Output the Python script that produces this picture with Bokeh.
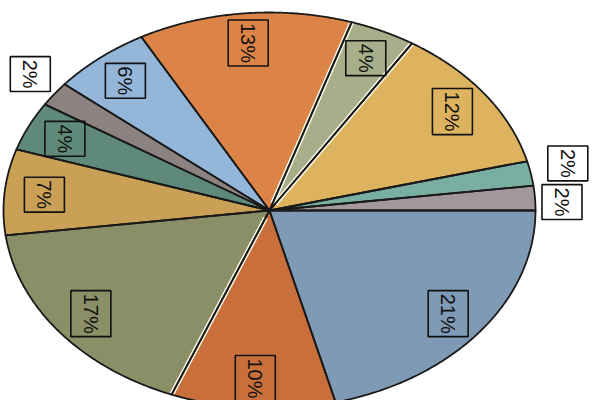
import numpy as np
from bokeh.plotting import figure
from bokeh.models import ColumnDataSource, Range1d
from bokeh.core.properties import value
from bokeh.embed import file_html
from bokeh.resources import INLINE

# Slices in clockwise order starting at 3 o'clock
shares = [21, 10, 17, 7, 4, 2, 6, 13, 4, 12, 2, 2]
colors = ["#7E9AB4", "#C96F3B", "#8A8F68", "#C9A056", "#5F8A7A", "#8C8282",
          "#94B6D8", "#DC8448", "#A6AE8A", "#DDB35F", "#79AFA3", "#A3989B"]
outside = [False, False, False, False, False, True,
           False, False, False, False, True, True]
highlight_edge = [False, True, False, False, False, False,
                  False, True, True, False, False, False]
label_text = [f"{s}%" for s in shares]

# geometry (style)
CX, CY, RX, RY = 269, 210, 266, 198   # ellipse in picture px
W, H = 595, 400
OX, OY = 0, 0
x0 = (OX - CX) / RX
x1 = (OX + W - CX) / RX
y0 = (CY - OY - H) / RY
y1 = (CY - OY) / RY

p = figure(width=W, height=H, output_backend="svg", toolbar_location=None,
           x_range=Range1d(x0, x1), y_range=Range1d(y0, y1), min_border=0)
p.axis.visible = False
p.grid.visible = False
p.outline_line_color = None
p.background_fill_color = "white"

frac = np.array(shares, dtype=float) / sum(shares)
ends = -np.cumsum(frac) * 2 * np.pi
starts = np.concatenate([[0.0], ends[:-1]])

xs, ys = [], []
for a0, a1 in zip(starts, ends):
    t = np.linspace(a0, a1, 120)
    xs.append(np.concatenate([[0.0], np.cos(t), [0.0]]))
    ys.append(np.concatenate([[0.0], np.sin(t), [0.0]]))

p.patches(xs=xs, ys=ys, fill_color=colors, line_color=None)

# light bevel highlight along some slice edges
hx, hy = [], []
for i, e in enumerate(ends):
    if highlight_edge[i]:
        hx.append([0.04 * np.cos(e), np.cos(e)])
        hy.append([0.04 * np.sin(e), np.sin(e)])
p.multi_line(xs=hx, ys=hy, line_color="#FAF6E4", line_width=5)

p.patches(xs=xs, ys=ys, fill_color=None, line_color="#1a1a1a", line_width=1.8,
          line_join="round")

mid = (starts + ends) / 2
inner_r = 0.85
ox_map = {5: (-24, -20), 10: (37, -10), 11: (27, 4)}

inx, iny, intext = [], [], []
outx, outy, outtext, offx, offy = [], [], [], [], []
for i, m in enumerate(mid):
    if outside[i]:
        outx.append(np.cos(m)); outy.append(np.sin(m)); outtext.append(label_text[i])
        dx, dy = ox_map[i]
        offx.append(dx); offy.append(dy)
    else:
        inx.append(inner_r * np.cos(m)); iny.append(inner_r * np.sin(m)); intext.append(label_text[i])

font = value("Liberation Sans")
common = dict(angle=-np.pi / 2, text_align="center", text_baseline="middle",
              text_font=font, text_font_size="20px", text_color="#111111",
              border_line_color="#111111", border_line_width=1.6,
              padding=(3, 9))
src_in = ColumnDataSource(dict(x=inx, y=iny, text=intext))
p.text(x="x", y="y", text="text", source=src_in, background_fill_color=None, **common)

src_out = ColumnDataSource(dict(x=outx, y=outy, text=outtext, dx=offx, dy=offy))
p.text(x="x", y="y", text="text", source=src_out, x_offset="dx", y_offset="dy",
       background_fill_color="white", **common)

open("out.html", "w").write(file_html(p, INLINE))
